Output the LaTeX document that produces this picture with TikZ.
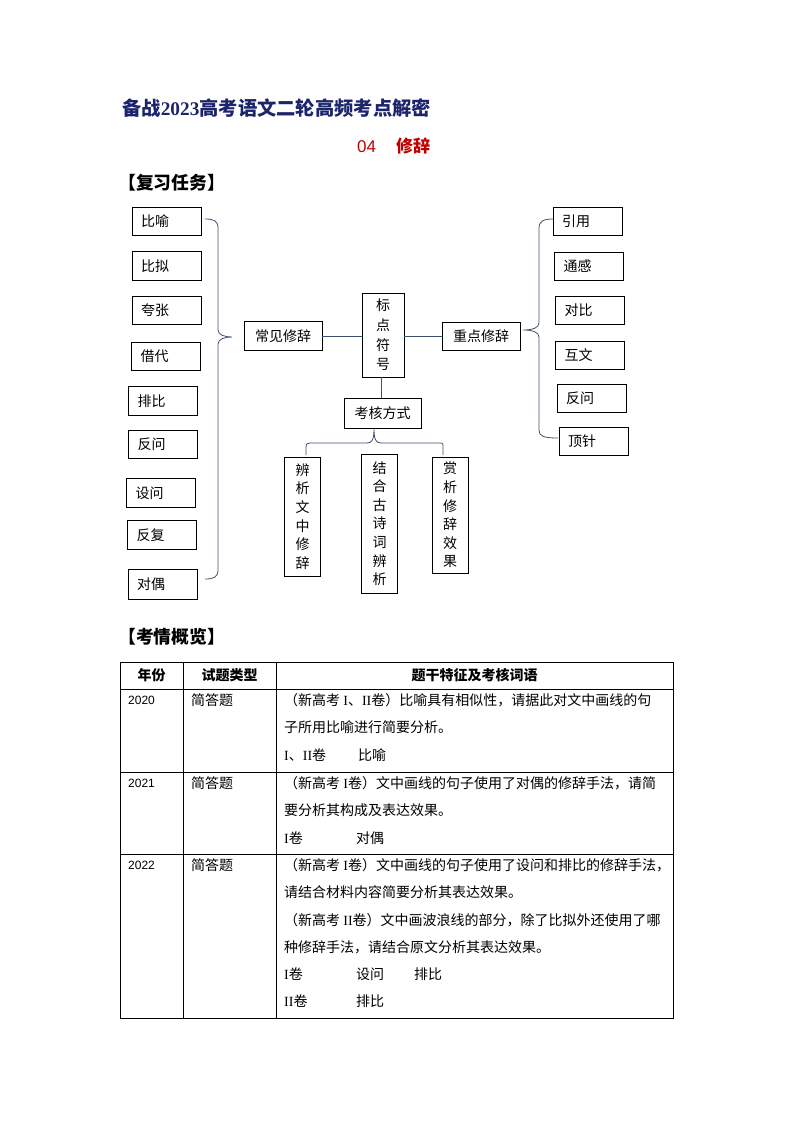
\documentclass[tikz,border=0pt]{standalone}
\usepackage{fontspec}
\setmainfont{Noto Sans CJK SC}
\newfontfamily\latinserif{Liberation Serif}
\newfontfamily\latinsans{Liberation Sans}
\usepackage{tikz}
\usetikzlibrary{calc}
\definecolor{bleutitre}{RGB}{28,36,108}
\definecolor{rougetitre}{RGB}{192,0,0}
\definecolor{lienC}{RGB}{62,82,110}
\newcommand{\rI}{{\latinserif I}}
\tikzset{
  etiq/.style={rectangle, draw=black, line width=0.7pt, align=left, text width=51pt,
               inner xsep=9pt, minimum height=28.5pt, font=\fontsize{14}{14}\selectfont},
  bloc/.style={rectangle, draw=black, line width=0.7pt, align=center, minimum width=78pt,
               minimum height=28.5pt, font=\fontsize{14}{14}\selectfont},
  pilier/.style={rectangle, draw=black, line width=0.7pt, align=center, inner xsep=0pt,
                 minimum width=35.5pt, font=\fontsize{14}{18.6}\selectfont},
  trait/.style={draw=lienC, line width=0.8pt},
  grille/.style={draw=black, line width=0.8pt},
  cellule/.style={inner sep=0pt, font=\fontsize{14}{27.2}\selectfont, align=left, anchor=north west},
}
\begin{document}
\begin{tikzpicture}[x=1pt, y=-1pt]
  \fill[white] (0,0) rectangle (794,1123);
  \useasboundingbox (0,0) rectangle (794,1123);

  \node[anchor=west, inner sep=0pt, text=bleutitre, font=\fontsize{19.3}{19.3}\selectfont\bfseries] (titre) at (122,108)
    {备战{\latinserif 2023}高考语文二轮高频考点解密};
  \node[anchor=west, inner sep=0pt, text=rougetitre, font=\fontsize{17}{17}\selectfont] (soustitre) at (357,146)
    {{\latinsans 04}\hspace{20pt}\textbf{修辞}};
  \node[anchor=west, inner sep=0pt, font=\fontsize{17.8}{17.8}\selectfont\bfseries] (rubrique1) at (118,183) {【复习任务】};

  \node[etiq] (biyu) at (166.5,221.5) {比喻};
  \node[etiq] (bini) at (166.5,266) {比拟};
  \node[etiq] (kuazhang) at (166.5,310.5) {夸张};
  \node[etiq] (jiedai) at (166,356.5) {借代};
  \node[etiq] (paibi) at (163,401) {排比};
  \node[etiq] (fanwenL) at (163,444.5) {反问};
  \node[etiq] (shewen) at (161,493) {设问};
  \node[etiq] (fanfu) at (162,535) {反复};
  \node[etiq, minimum height=30pt] (duiou) at (162.5,584) {对偶};

  \node[etiq] (yinyong) at (587.5,221.5) {引用};
  \node[etiq] (tonggan) at (589,266.5) {通感};
  \node[etiq] (duibi) at (590,310.5) {对比};
  \node[etiq] (huwen) at (590,355.5) {互文};
  \node[etiq] (fanwenR) at (591.5,398.5) {反问};
  \node[etiq] (dingzhen) at (593.5,441.5) {顶针};

  \node[bloc] (changjian) at (283,336) {常见修辞};
  \node[bloc] (zhongdian) at (481,336.5) {重点修辞};
  \node[pilier, minimum width=42pt, minimum height=84pt, font=\fontsize{14}{19.6}\selectfont] (biaodian) at (383,335)
    {标\\点\\符\\号};
  \node[bloc, minimum width=77pt, minimum height=30pt] (kaohe) at (382.5,413) {考核方式};
  \node[pilier, minimum height=119pt] (bianxi) at (302.5,516.5) {辨\\析\\文\\中\\修\\辞};
  \node[pilier, minimum height=139pt] (jiehe) at (379.5,523.5) {结\\合\\古\\诗\\词\\辨\\析};
  \node[pilier, minimum width=36pt, minimum height=116pt] (shangxi) at (450,515) {赏\\析\\修\\辞\\效\\果};

  \draw[trait] (changjian.east) -- (changjian.east -| biaodian.west);
  \draw[trait] (zhongdian.west) -- (zhongdian.west -| biaodian.east);
  \draw[trait] ($(biaodian.south)+(-2,0)$) -- ($(biaodian.south |- kaohe.north)+(-2,0)$);

  \coordinate (gb-haut) at (205,219);
  \coordinate (gb-pointe) at (232,337);
  \coordinate (gb-bas) at (205,579);
  \draw[trait] (gb-haut) .. controls (214,219) and (218,221) .. (218,228) -- (218,330)
    .. controls (218,335) and (225,337) .. (gb-pointe)
    .. controls (225,337) and (218,339) .. (218,344) -- (218,570)
    .. controls (218,577) and (214,579) .. (gb-bas);

  \coordinate (db-haut) at (553,219);
  \coordinate (db-pointe) at (523,330);
  \coordinate (db-bas) at (558,438);
  \draw[trait] (db-haut) .. controls (544,219) and (539,221) .. (539,228) -- (539,323)
    .. controls (539,328) and (532,330) .. (db-pointe)
    .. controls (532,330) and (539,332) .. (539,337) -- (539,430)
    .. controls (539,436) and (543,438) .. (db-bas);

  \coordinate (kb-gauche) at (306,455);
  \coordinate (kb-pointe) at (374,428);
  \coordinate (kb-droite) at (443,455);
  \draw[trait] (kb-gauche) -- (306,447) .. controls (306,444) .. (310,443) -- (367,443)
    .. controls (372,443) and (374,440) .. (kb-pointe)
    .. controls (374,440) and (376,443) .. (381,443) -- (439,443)
    .. controls (443,443) .. (443,447) -- (kb-droite);

  \node[anchor=west, inner sep=0pt, font=\fontsize{17.8}{17.8}\selectfont\bfseries] (rubrique2) at (118,637) {【考情概览】};

  \draw[grille] (120,662) rectangle (673,1018);
  \draw[grille] (183,662) -- (183,1018);
  \draw[grille] (276,662) -- (276,1018);
  \draw[grille] (120,689) -- (673,689);
  \draw[grille] (120,772) -- (673,772);
  \draw[grille] (120,854) -- (673,854);

  \node[font=\fontsize{14}{14}\selectfont\bfseries] (h-annee) at (151.5,675.5) {年份};
  \node[font=\fontsize{14}{14}\selectfont\bfseries] (h-type) at (229.5,675.5) {试题类型};
  \node[font=\fontsize{14}{14}\selectfont\bfseries] (h-trait) at (474.5,675.5) {题干特征及考核词语};

  \node[anchor=west, inner sep=0pt, font=\fontsize{12}{12}\selectfont\latinsans] (a2020) at (128,700) {2020};
  \node[anchor=west, inner sep=0pt, font=\fontsize{12}{12}\selectfont\latinsans] (a2021) at (128,783) {2021};
  \node[anchor=west, inner sep=0pt, font=\fontsize{12}{12}\selectfont\latinsans] (a2022) at (128,865) {2022};
  \node[anchor=west, inner sep=0pt, font=\fontsize{14}{14}\selectfont] (t2020) at (191,700) {简答题};
  \node[anchor=west, inner sep=0pt, font=\fontsize{14}{14}\selectfont] (t2021) at (191,783) {简答题};
  \node[anchor=west, inner sep=0pt, font=\fontsize{14}{14}\selectfont] (t2022) at (191,865) {简答题};

  \node[cellule] (c2020) at (284,693.5)
    {（新高考 \rI、\rI\rI 卷）比喻具有相似性，请据此对文中画线的句\\
     子所用比喻进行简要分析。\\
     \makebox[74pt][l]{\rI、\rI\rI 卷}比喻};
  \node[cellule] (c2021) at (284,776.5)
    {（新高考 \rI 卷）文中画线的句子使用了对偶的修辞手法，请简\\
     要分析其构成及表达效果。\\
     \makebox[72pt][l]{\rI 卷}对偶};
  \node[cellule] (c2022) at (284,858.5)
    {（新高考 \rI 卷）文中画线的句子使用了设问和排比的修辞手法，\\
     请结合材料内容简要分析其表达效果。\\
     （新高考 \rI\rI 卷）文中画波浪线的部分，除了比拟外还使用了哪\\
     种修辞手法，请结合原文分析其表达效果。\\
     \makebox[72pt][l]{\rI 卷}\makebox[58pt][l]{设问}排比\\
     \makebox[72pt][l]{\rI\rI 卷}排比};
\end{tikzpicture}
\end{document}
